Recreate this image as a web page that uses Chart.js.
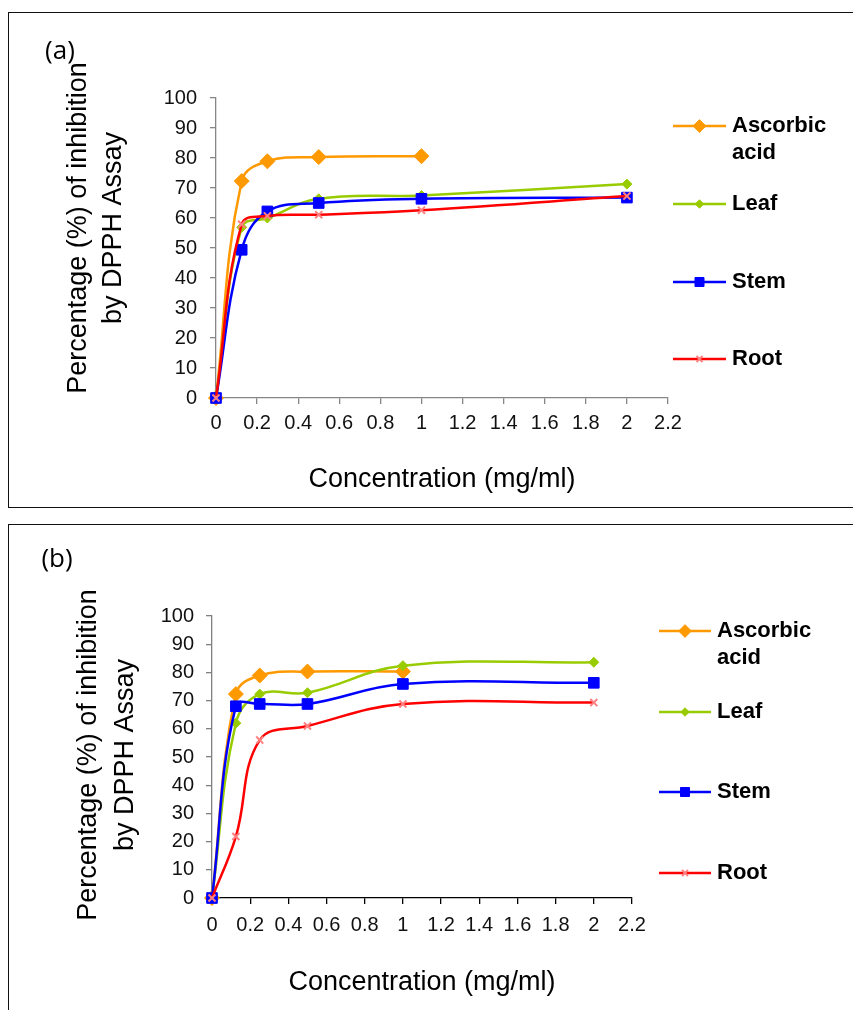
<!DOCTYPE html>
<html>
<head>
<meta charset="utf-8">
<title>DPPH inhibition</title>
<script src="https://cdn.jsdelivr.net/npm/chart.js@4.4.1/dist/chart.umd.min.js"></script>
<style>
  html, body { margin: 0; padding: 0; background: #fff; width: 853px; height: 1010px; overflow: hidden; }
  .panel { position: absolute; border: 1.5px solid #111; box-sizing: border-box; }
  #boxA { left: 8px; top: 12px; width: 900px; height: 496px; }
  #boxB { left: 8px; top: 524px; width: 900px; height: 600px; }
  canvas { position: absolute; left: 0; }
  #chartA { top: 0; }
  #chartB { top: 525px; }
</style>
</head>
<body>
<div class="panel" id="boxA"></div>
<div class="panel" id="boxB"></div>
<canvas id="chartA" width="853" height="505"></canvas>
<canvas id="chartB" width="853" height="485"></canvas>
<script>
// concentrations (mg/ml), same for both assays
const concentration = [0, 0.125, 0.25, 0.5, 1, 2];

// panel (a)
const ascorbicA = [0, 72.3, 78.9, 80.3, 80.6];
const leafA = [0, 56.9, 60.0, 66.4, 67.5, 71.3];
const stemA = [0, 49.4, 62.2, 65.0, 66.4, 66.8];
const rootA = [0, 57.9, 60.7, 61.1, 62.6, 67.3];

// panel (b)
const ascorbicB = [0, 72.3, 78.9, 80.3, 80.3];
const leafB = [0, 62.0, 72.3, 72.8, 82.4, 83.6];
const stemB = [0, 68.0, 68.8, 68.8, 75.9, 76.3];
const rootB = [0, 21.8, 56.0, 61.0, 68.8, 69.3];

const seriesNames = ['Ascorbic acid', 'Leaf', 'Stem', 'Root'];
const legendLines = [['Ascorbic', 'acid'], ['Leaf'], ['Stem'], ['Root']];
const yTitleLines = ['Percentage (%) of inhibition', 'by DPPH Assay'];
const xTitle = 'Concentration (mg/ml)';

const xTickValues = [0, 0.2, 0.4, 0.6, 0.8, 1, 1.2, 1.4, 1.6, 1.8, 2, 2.2];
const xTickLabels = ['0', '0.2', '0.4', '0.6', '0.8', '1', '1.2', '1.4', '1.6', '1.8', '2', '2.2'];
const yTickValues = [0, 10, 20, 30, 40, 50, 60, 70, 80, 90, 100];
const yTickLabels = ['0', '10', '20', '30', '40', '50', '60', '70', '80', '90', '100'];

const FONT = '"Liberation Sans", Arial, sans-serif';
Chart.defaults.font.family = FONT;
Chart.defaults.color = '#111';

const styles = [
  { color: '#FF9900', point: 'rectRot', radius: 7.5, pointColor: '#FF9900' },
  { color: '#99CC00', point: 'rectRot', radius: 5, pointColor: '#99CC00' },
  { color: '#0000FF', point: 'rect', radius: 7.5, pointColor: '#0000FF' },
  { color: '#FF0000', point: 'crossRot', radius: 5, pointColor: '#FF8080' },
];

function makeDatasets(series) {
  return series.map((values, i) => {
    const s = styles[i];
    return {
      label: seriesNames[i],
      data: values.map((v, j) => ({ x: concentration[j], y: v })),
      borderColor: s.color,
      backgroundColor: s.color,
      borderWidth: 2.5,
      tension: 0.4,
      pointStyle: s.point,
      pointRadius: s.radius,
      pointBackgroundColor: s.pointColor,
      pointBorderColor: s.pointColor,
      pointBorderWidth: s.point === 'crossRot' ? 2 : 1,
      clip: false,
      order: series.length - i, // later series drawn on top, like the original
    };
  });
}

// panel letter, rotated y title and the legend on the right
const annotations = {
  id: 'annot',
  afterDraw(chart, args, o) {
    const ctx = chart.ctx;
    ctx.save();
    ctx.fillStyle = '#000';
    ctx.font = '26px "Open Sans", sans-serif';
    ctx.textAlign = 'center';
    ctx.textBaseline = 'middle';
    ctx.fillText(o.letter, o.letterX, o.letterY);

    ctx.font = '27px ' + FONT;
    ctx.textBaseline = 'alphabetic';
    yTitleLines.forEach((line, i) => {
      ctx.save();
      ctx.translate(o.yTitleX[i], o.yTitleY);
      ctx.rotate(-Math.PI / 2);
      ctx.fillText(line, 0, 0);
      ctx.restore();
    });

    ctx.textAlign = 'left';
    ctx.textBaseline = 'middle';
    chart.data.datasets.forEach((ds, i) => {
      const y = o.legendY[i];
      ctx.strokeStyle = ds.borderColor;
      ctx.lineWidth = 2.5;
      ctx.beginPath();
      ctx.moveTo(o.legendX1, y);
      ctx.lineTo(o.legendX2, y);
      ctx.stroke();
      ctx.fillStyle = ds.pointBackgroundColor;
      ctx.strokeStyle = ds.pointBorderColor;
      ctx.lineWidth = ds.pointBorderWidth;
      Chart.helpers.drawPoint(ctx, {
        pointStyle: ds.pointStyle, radius: ds.pointRadius * 0.85, rotation: 0, borderWidth: ds.pointBorderWidth,
      }, (o.legendX1 + o.legendX2) / 2, y);
      ctx.fillStyle = '#000';
      ctx.font = 'bold 22px ' + FONT;
      legendLines[i].forEach((t, j) => ctx.fillText(t, o.legendTextX, y + j * 27));
    });
    ctx.restore();
  },
};

function makeChart(id, series, p) {
  return new Chart(document.getElementById(id), {
    type: 'line',
    data: { datasets: makeDatasets(series) },
    plugins: [annotations],
    options: {
      responsive: false,
      animation: false,
      events: [],
      layout: { padding: { left: 0, top: p.top, right: p.right, bottom: 0 } },
      plugins: {
        legend: { display: false },
        tooltip: { enabled: false },
        annot: p.annot,
      },
      scales: {
        x: {
          type: 'linear',
          min: 0,
          max: 2.2,
          afterBuildTicks: s => { s.ticks = xTickValues.map(v => ({ value: v })); },
          afterFit: s => { s.height = p.xHeight; },
          ticks: { font: { size: 20 }, padding: p.xPad, maxRotation: 0, autoSkip: false,
            callback: (v, i) => xTickLabels[i] },
          grid: { drawOnChartArea: false, tickLength: 6, color: p.xColor, lineWidth: 1.3 },
          border: { color: p.xColor, width: 1.3 },
          title: { display: true, text: xTitle, color: '#000', font: { size: 27 },
            padding: { top: 0, bottom: p.xTitlePad } },
        },
        y: {
          type: 'linear',
          min: 0,
          max: 100,
          afterBuildTicks: s => { s.ticks = yTickValues.map(v => ({ value: v })); },
          afterFit: s => { s.width = p.yWidth; },
          ticks: { font: { size: 20 }, padding: p.yPad, callback: (v, i) => yTickLabels[i] },
          grid: { drawOnChartArea: false, tickLength: 6, color: p.yColor, lineWidth: 1.3 },
          border: { color: p.yColor, width: 1.3 },
        },
      },
    },
  });
}

makeChart('chartA', [ascorbicA, leafA, stemA, rootA], {
  top: 98, right: 185, yWidth: 216, xHeight: 107,
  xPad: 7, yPad: 13, xTitlePad: 9,
  xColor: '#868686', yColor: '#868686',
  annot: {
    letter: '(a)', letterX: 60, letterY: 52,
    yTitleX: [86, 121], yTitleY: 228,
    legendX1: 673, legendX2: 726, legendTextX: 732,
    legendY: [126, 204, 282, 359],
  },
});

makeChart('chartB', [ascorbicB, leafB, stemB, rootB], {
  top: 91, right: 221, yWidth: 212, xHeight: 112,
  xPad: 9, yPad: 12, xTitlePad: 11,
  xColor: '#000', yColor: '#808080',
  annot: {
    letter: '(b)', letterX: 57, letterY: 35,
    yTitleX: [96, 133], yTitleY: 230,
    legendX1: 659, legendX2: 711, legendTextX: 717,
    legendY: [106, 187, 267, 348],
  },
});
</script>
</body>
</html>
